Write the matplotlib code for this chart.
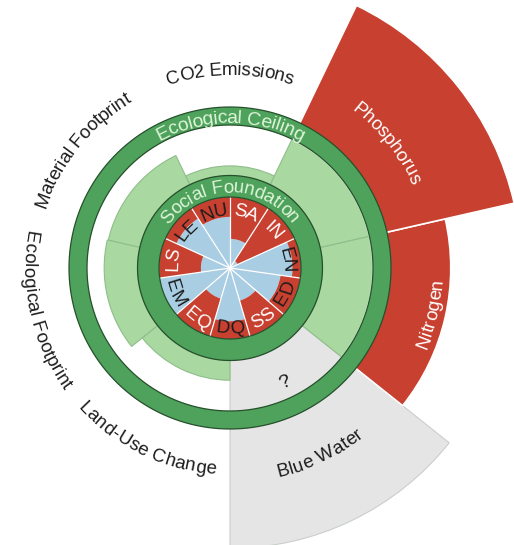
import numpy as np
import matplotlib.pyplot as plt
from matplotlib.font_manager import FontProperties, findfont
from matplotlib.ft2font import FT2Font

plt.rcParams['font.family'] = ['Liberation Sans', 'DejaVu Sans']

# social foundation, clockwise from the top; share of the foundation reached
social_labels = ['SA', 'IN', 'EN', 'ED', 'SS', 'DQ', 'EQ', 'EM', 'LS', 'LE', 'NU']
social_values = [0.41, 0.12, 0.88, 0.72, 0.48, 0.75, 0.45, 1.00, 0.41, 0.83, 0.72]

# ecological ceiling, counter-clockwise from the bottom; 1 = ceiling
eco_labels = ['Blue Water', 'Nitrogen', 'Phosphorus', 'CO2 Emissions',
              'Material Footprint', 'Ecological Footprint', 'Land-Use Change']
eco_values = [3.72, 2.54, 3.94, 0.19, 0.64, 0.66, 0.39]
eco_known = [False, True, True, True, True, True, True]

RED = '#c8402f'
BLUE = '#a9cde3'
LGREEN = '#a9d9a0'
DGREEN = '#4ea25c'
GREY = '#e5e5e5'
RING_TXT = '#def4d8'
DARK = '#1c1c1c'

R_IN = 71      # social foundation inner edge
R_SF = 92.5    # social foundation outer edge
R_EC = 143     # ecological ceiling inner edge
R_EC2 = 161    # ecological ceiling outer edge
DPI = 100

fig = plt.figure(figsize=(5.14, 5.45), dpi=DPI)
ax = fig.add_axes([(230 - 300) / 514, (277 - 300) / 545, 600 / 514, 600 / 545],
                  projection='polar')
ax.set_ylim(0, 300)
ax.set_axis_off()

_font = FT2Font(findfont(FontProperties(family='Liberation Sans')))


def advances(s, size, track):
    _font.set_size(size, 72)
    em = size * DPI / 72
    return np.array([_font.load_char(ord(c)).linearHoriAdvance / 65536 * DPI / 72 + track * em
                     for c in s])


def arc_text(s, theta_c, r, size, color, track=0.0):
    # text bent along a circle; tops outward on the upper half, inward below
    upper = np.sin(theta_c) > 0
    adv = advances(s, size, track)
    em = size * DPI / 72
    pos = np.cumsum(adv) - adv / 2 - adv.sum() / 2
    rb = r - 0.35 * em if upper else r + 0.35 * em
    for c, p in zip(s, pos):
        if upper:
            th = theta_c - p / r
            rot = np.degrees(th) - 90
        else:
            th = theta_c + p / r
            rot = np.degrees(th) + 90
        ax.text(th, rb, c, rotation=rot, rotation_mode='anchor', ha='center',
                va='baseline', fontsize=size, color=color)


# ecological wedges
e_step = 2 * np.pi / len(eco_labels)
e_theta = -np.pi / 2 + (np.arange(len(eco_labels)) + 0.5) * e_step
e_r = R_SF + np.array(eco_values) * (R_EC - R_SF)
for th, rr, known in zip(e_theta, e_r, eco_known):
    if not known:
        ax.bar(th, rr - R_SF, width=e_step, bottom=R_SF, color=GREY,
               edgecolor='#c9cfc9', linewidth=0.8)
        continue
    ax.bar(th, min(rr, R_EC) - R_SF, width=e_step, bottom=R_SF, color=LGREEN,
           edgecolor='#8fbd8b', linewidth=0.8)
    if rr > R_EC:
        ax.bar(th, rr - R_EC, width=e_step, bottom=R_EC, color=RED,
               edgecolor='white', linewidth=1.2)

# social wedges
s_step = 2 * np.pi / len(social_labels)
s_theta = np.pi / 2 - (np.arange(len(social_labels)) + 0.5) * s_step
s_r = np.array(social_values) * R_IN
ax.bar(s_theta, s_r, width=s_step, bottom=0, color=BLUE, linewidth=0)
ax.bar(s_theta, R_IN - s_r, width=s_step, bottom=s_r, color=RED, linewidth=0)
for k in range(len(social_labels)):
    b = np.pi / 2 - k * s_step
    ax.plot([b, b], [0, R_IN], color='white', lw=0.9)

# the two rings
ax.bar(np.pi / 2, R_SF - R_IN, width=2 * np.pi, bottom=R_IN, color=DGREEN, linewidth=0)
ax.bar(np.pi / 2, R_EC2 - R_EC, width=2 * np.pi, bottom=R_EC, color=DGREEN, linewidth=0)
t = np.linspace(0, 2 * np.pi, 721)
for rr in (R_IN, R_SF, R_EC, R_EC2):
    ax.plot(t, np.full_like(t, rr), color='#26502c', lw=0.9, solid_capstyle='butt')

arc_text('Social Foundation', np.pi / 2, 82, 13.5, RING_TXT, track=0.02)
arc_text('Ecological Ceiling', np.pi / 2, 152, 14, RING_TXT)

for lab, th, v in zip(social_labels, s_theta, social_values):
    arc_text(lab, th, 59, 13.5, DARK if v >= 0.6 else 'white')

for lab, th, rr, known in zip(eco_labels, e_theta, e_r, eco_known):
    if not known:
        arc_text('?', th, 125, 14, DARK)
        arc_text(lab, th, 208, 13.5, DARK)
    elif rr > R_EC:
        arc_text(lab, th, 206, 13.5, 'white')
    else:
        arc_text(lab, th, 200, 13.5, DARK)

fig.savefig('out.png', dpi=DPI)
